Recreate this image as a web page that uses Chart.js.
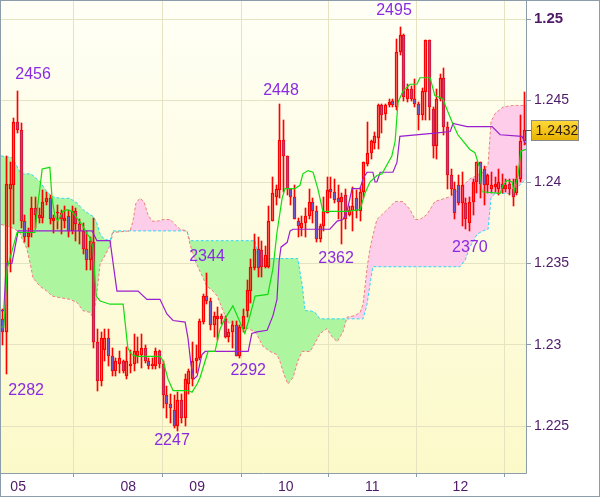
<!DOCTYPE html>
<html>
<head>
<meta charset="utf-8">
<script src="https://cdn.jsdelivr.net/npm/chart.js@4.4.1/dist/chart.umd.min.js"></script>
<style>
  html, body { margin: 0; padding: 0; background: #fff; }
  #wrap { width: 600px; height: 497px; }
</style>
</head>
<body>
<div id="wrap"><canvas id="ichimoku" width="600" height="497"></canvas></div>
<script>
// hourly candles, one per index
const opens = [
  1.2316,1.2308,1.2396,1.2398,1.2437,1.2432,1.2376,1.2366,1.2369,1.2384,
  1.2380,1.2378,1.2388,1.2390,1.2376,1.2381,1.2381,1.2376,1.2379,1.2370,
  1.2382,1.2374,1.2370,1.2359,1.2352,1.2363,1.2302,1.2278,1.2297,1.2304,
  1.2293,1.2284,1.2288,1.2290,1.2281,1.2287,1.2288,1.2293,1.2294,1.2298,
  1.2290,1.2287,1.2287,1.2296,1.2288,1.2269,1.2264,1.2260,1.2250,1.2266,
  1.2255,1.2276,1.2279,1.2290,1.2292,1.2314,1.2330,1.2327,1.2312,1.2316,
  1.2318,1.2316,1.2305,1.2308,1.2312,1.2293,1.2310,1.2321,1.2333,1.2347,
  1.2359,1.2358,1.2348,1.2348,1.2376,1.2391,1.2395,1.2426,1.2416,1.2396,
  1.2391,1.2376,1.2372,1.2375,1.2379,1.2388,1.2382,1.2365,1.2373,1.2381,
  1.2396,1.2394,1.2390,1.2388,1.2392,1.2380,1.2382,1.2390,1.2382,1.2394,
  1.2411,1.2418,1.2424,1.2427,1.2447,1.2442,1.2447,1.2450,1.2446,1.2480,
  1.2490,1.2451,1.2457,1.2451,1.2448,1.2441,1.2455,1.2487,1.2445,1.2422,
  1.2451,1.2464,1.2434,1.2404,1.2396,1.2398,1.2387,1.2387,1.2375,1.2388,
  1.2400,1.2412,1.2408,1.2398,1.2396,1.2397,1.2396,1.2399,1.2396,1.2399,
  1.2396,1.2393,1.2402,1.2425
];
const highs = [
  1.2322,1.2416,1.2412,1.2439,1.2456,1.2436,1.2380,1.2372,1.2391,1.2391,
  1.2384,1.2395,1.2394,1.2392,1.2380,1.2386,1.2383,1.2385,1.2383,1.2385,
  1.2384,1.2377,1.2375,1.2370,1.2366,1.2378,1.2310,1.2308,1.2310,1.2310,
  1.2298,1.2292,1.2296,1.2291,1.2299,1.2297,1.2307,1.2305,1.2307,1.2300,
  1.2292,1.2292,1.2298,1.2297,1.2290,1.2275,1.2270,1.2269,1.2271,1.2270,
  1.2282,1.2285,1.2302,1.2300,1.2316,1.2331,1.2344,1.2329,1.2320,1.2323,
  1.2319,1.2318,1.2310,1.2315,1.2315,1.2312,1.2322,1.2340,1.2353,1.2368,
  1.2366,1.2364,1.2361,1.2385,1.2403,1.2398,1.2448,1.2438,1.2416,1.2396,
  1.2398,1.2378,1.2379,1.2384,1.2396,1.2390,1.2385,1.2374,1.2391,1.2403,
  1.2403,1.2402,1.2398,1.2393,1.2396,1.2385,1.2397,1.2395,1.2397,1.2412,
  1.2437,1.2426,1.2431,1.2448,1.2448,1.2448,1.2451,1.2451,1.2488,1.2495,
  1.2491,1.2460,1.2459,1.2463,1.2449,1.2458,1.2487,1.2487,1.2446,1.2457,
  1.2466,1.2470,1.2437,1.2408,1.2400,1.2404,1.2406,1.2390,1.2391,1.2402,
  1.2412,1.2412,1.2410,1.2405,1.2406,1.2403,1.2408,1.2405,1.2402,1.2402,
  1.2402,1.2410,1.2441,1.2455
];
const lows = [
  1.2300,1.2282,1.2345,1.2374,1.2430,1.2372,1.2363,1.2360,1.2366,1.2372,
  1.2375,1.2375,1.2386,1.2374,1.2369,1.2371,1.2368,1.2372,1.2366,1.2368,
  1.2364,1.2362,1.2356,1.2346,1.2346,1.2298,1.2272,1.2275,1.2290,1.2287,
  1.2281,1.2281,1.2283,1.2283,1.2279,1.2283,1.2284,1.2289,1.2286,1.2289,
  1.2285,1.2285,1.2285,1.2286,1.2261,1.2255,1.2252,1.2249,1.2247,1.2252,
  1.2250,1.2270,1.2275,1.2283,1.2291,1.2313,1.2325,1.2309,1.2305,1.2303,
  1.2313,1.2304,1.2302,1.2298,1.2293,1.2292,1.2308,1.2317,1.2326,1.2346,
  1.2342,1.2342,1.2347,1.2347,1.2376,1.2386,1.2390,1.2394,1.2392,1.2386,
  1.2377,1.2366,1.2367,1.2366,1.2377,1.2375,1.2363,1.2363,1.2370,1.2381,
  1.2390,1.2387,1.2377,1.2362,1.2371,1.2379,1.2370,1.2378,1.2376,1.2390,
  1.2410,1.2414,1.2420,1.2420,1.2430,1.2438,1.2446,1.2446,1.2444,1.2478,
  1.2450,1.2449,1.2450,1.2446,1.2432,1.2438,1.2438,1.2438,1.2415,1.2414,
  1.2450,1.2429,1.2396,1.2392,1.2377,1.2386,1.2373,1.2371,1.2370,1.2380,
  1.2393,1.2390,1.2386,1.2393,1.2393,1.2394,1.2392,1.2393,1.2394,1.2392,
  1.2385,1.2392,1.2400,1.2423
];
const closes = [
  1.2308,1.2399,1.2399,1.2437,1.2432,1.2376,1.2366,1.2369,1.2384,1.2380,
  1.2378,1.2388,1.2390,1.2377,1.2378,1.2381,1.2377,1.2378,1.2370,1.2382,
  1.2374,1.2370,1.2359,1.2352,1.2364,1.2302,1.2278,1.2304,1.2304,1.2293,
  1.2284,1.2290,1.2292,1.2284,1.2290,1.2288,1.2296,1.2296,1.2298,1.2290,
  1.2287,1.2288,1.2296,1.2288,1.2269,1.2264,1.2261,1.2250,1.2266,1.2255,
  1.2279,1.2284,1.2290,1.2292,1.2315,1.2330,1.2327,1.2312,1.2318,1.2318,
  1.2316,1.2305,1.2308,1.2312,1.2293,1.2311,1.2318,1.2334,1.2348,1.2359,
  1.2347,1.2348,1.2355,1.2376,1.2393,1.2396,1.2426,1.2416,1.2396,1.2391,
  1.2377,1.2373,1.2375,1.2379,1.2388,1.2382,1.2365,1.2373,1.2382,1.2395,
  1.2394,1.2389,1.2388,1.2391,1.2377,1.2383,1.2385,1.2382,1.2394,1.2412,
  1.2418,1.2425,1.2428,1.2447,1.2441,1.2447,1.2449,1.2447,1.2480,1.2490,
  1.2452,1.2457,1.2451,1.2448,1.2441,1.2456,1.2487,1.2446,1.2422,1.2451,
  1.2464,1.2434,1.2404,1.2396,1.2381,1.2387,1.2398,1.2377,1.2388,1.2400,
  1.2412,1.2399,1.2398,1.2404,1.2398,1.2399,1.2400,1.2396,1.2398,1.2396,
  1.2391,1.2402,1.2425,1.2432
];

// tenkan / kijun corners as [index, price]
const tenkan = [
  [-0.5,1.2311],[0.3,1.2311],[1.2,1.2347],[3.9,1.2369],[8.8,1.2369],[9.7,1.2388],[10.8,1.2408],
  [12.9,1.2409],[13.5,1.2390],[14.3,1.2379],[15.1,1.2376],[16.5,1.2382],[17.6,1.2383],[19.0,1.2382],
  [20.6,1.2377],[21.7,1.2374],[23.1,1.2368],[23.9,1.2366],[24.7,1.2360],[25.6,1.2330],[26.7,1.2327],
  [29.4,1.2325],[33.0,1.2325],[34.3,1.2298],[35.4,1.2294],[36.8,1.2293],[43.1,1.2293],[44.0,1.2290],
  [45.3,1.2279],[46.7,1.2272],[50.8,1.2272],[51.9,1.2271],[53.3,1.2276],[54.1,1.2280],[56.3,1.2296],
  [58.2,1.2296],[59.6,1.2310],[60.9,1.2316],[63.1,1.2324],[66.4,1.2307],[67.8,1.2318],[69.2,1.2330],
  [72.7,1.2331],[74.1,1.2347],[75.2,1.2369],[76.6,1.2390],[77.4,1.2396],[80.1,1.2396],[81.5,1.2398],
  [82.3,1.2405],[83.7,1.2407],[85.1,1.2406],[86.4,1.2396],[87.8,1.2382],[94.4,1.2382],[98.0,1.2383],
  [99.3,1.2393],[100.7,1.2400],[102.6,1.2404],[104.0,1.2405],[106.7,1.2416],[107.6,1.2425],[108.4,1.2449],
  [109.8,1.2456],[111.7,1.2460],[113.6,1.2460],[114.4,1.2464],[117.2,1.2464],[118.5,1.2453],[120.7,1.2451],
  [122.1,1.2443],[123.2,1.2437],[124.8,1.2429],[125.9,1.2426],[128.1,1.2420],[129.5,1.2418],[130.9,1.2408],
  [131.4,1.2394],[136.4,1.2393],[137.2,1.2398],[138.3,1.2401],[139.7,1.2400],[140.2,1.2394],[141.3,1.2404],
  [142.1,1.2419],[143.5,1.2420]
];
const kijun = [
  [-0.5,1.2321],[0.3,1.2321],[0.9,1.2350],[2.5,1.2350],[4.2,1.2370],[24.5,1.2370],[25.8,1.2364],
  [29.4,1.2364],[31.3,1.2333],[37.1,1.2333],[39.5,1.2328],[43.1,1.2328],[45.0,1.2319],[46.7,1.2315],
  [50.0,1.2314],[50.8,1.2304],[51.6,1.2288],[52.4,1.2279],[53.3,1.2281],[54.6,1.2294],[55.5,1.2296],
  [67.3,1.2296],[68.3,1.2307],[69.7,1.2308],[72.5,1.2309],[74.1,1.2318],[75.2,1.2328],[75.8,1.2352],
  [76.3,1.2360],[78.0,1.2363],[78.8,1.2370],[79.6,1.2371],[89.7,1.2371],[91.7,1.2376],[93.3,1.2377],
  [94.4,1.2382],[95.8,1.2396],[98.0,1.2396],[98.8,1.2402],[99.9,1.2406],[101.5,1.2406],[102.1,1.2400],
  [102.6,1.2400],[103.5,1.2406],[107.0,1.2406],[108.1,1.2412],[108.9,1.2428],[118.5,1.2430],[122.7,1.2431],
  [123.5,1.2436],[127.3,1.2434],[134.2,1.2434],[136.4,1.2429],[142.4,1.2428],[143.5,1.2423]
];

// cloud edges sampled at the same positions
const cloudX = [
  -0.5,2.5,3.3,4.7,5.3,6.6,7.5,8.3,10.2,12.1,13.5,15.7,18.4,20.4,22.0,23.9,24.7,25.6,26.7,27.8,
  29.4,30.2,34.9,35.7,36.5,37.6,38.7,39.8,40.9,42.6,43.9,45.9,47.2,48.6,50.5,51.3,52.7,54.1,56.0,57.7,
  58.8,60.4,61.8,63.1,67.3,69.2,70.0,71.4,73.3,75.2,76.0,77.1,78.2,79.6,80.9,82.1,82.9,84.3,85.6,87.0,
  88.9,90.3,91.7,93.3,94.4,96.6,98.0,98.8,99.9,100.7,101.5,102.6,105.4,107.6,109.8,111.7,113.1,114.4,116.3,118.5,
  122.7,125.4,126.8,128.1,130.1,131.7,133.1,133.9,135.0,137.2,139.9,141.3,143.5
];
const senkouA = [
  1.2416,1.2415,1.2412,1.2406,1.2405,1.2405,1.2405,1.2404,1.2400,1.2394,1.2391,1.2390,1.2390,1.2387,1.2383,1.2380,1.2379,1.2376,1.2368,1.2365,
  1.2364,1.2370,1.2370,1.2370,1.2370,1.2370,1.2370,1.2370,1.2370,1.2370,1.2370,1.2370,1.2370,1.2370,1.2370,1.2364,1.2364,1.2364,1.2364,1.2364,
  1.2364,1.2364,1.2364,1.2364,1.2364,1.2364,1.2353,1.2353,1.2353,1.2353,1.2353,1.2353,1.2353,1.2353,1.2353,1.2337,1.2321,1.2321,1.2320,1.2316,
  1.2316,1.2316,1.2316,1.2316,1.2316,1.2316,1.2316,1.2316,1.2325,1.2337,1.2348,1.2348,1.2348,1.2348,1.2348,1.2348,1.2348,1.2348,1.2348,1.2348,
  1.2348,1.2348,1.2352,1.2360,1.2368,1.2370,1.2371,1.2390,1.2393,1.2393,1.2393,1.2397,1.2402
];
const senkouB = [
  1.2374,1.2372,1.2371,1.2369,1.2365,1.2359,1.2350,1.2341,1.2336,1.2333,1.2330,1.2329,1.2328,1.2326,1.2321,1.2320,1.2317,1.2328,1.2350,1.2354,
  1.2361,1.2369,1.2370,1.2376,1.2387,1.2390,1.2388,1.2380,1.2376,1.2376,1.2377,1.2377,1.2374,1.2371,1.2370,1.2362,1.2352,1.2345,1.2336,1.2333,
  1.2330,1.2321,1.2314,1.2312,1.2310,1.2308,1.2305,1.2299,1.2296,1.2294,1.2290,1.2282,1.2276,1.2280,1.2290,1.2296,1.2296,1.2296,1.2301,1.2307,
  1.2310,1.2305,1.2302,1.2308,1.2317,1.2318,1.2320,1.2325,1.2347,1.2359,1.2367,1.2377,1.2383,1.2388,1.2388,1.2383,1.2377,1.2377,1.2380,1.2388,
  1.2391,1.2396,1.2399,1.2402,1.2404,1.2406,1.2411,1.2437,1.2442,1.2446,1.2447,1.2447,1.2447
];

// swing labels: text, index position, price position
const markText = ['2456', '2282', '2448', '2495', '2344', '2247', '2292', '2362', '2370'];
const markX = [8.3, 6.4, 76.3, 107.3, 56.0, 46.4, 67.3, 91.4, 128.1];
const markY = [1.2466, 1.2272, 1.2456, 1.2505, 1.2354, 1.2241, 1.2284, 1.2353, 1.2360];

const dayTicks = [4.2, 34.4, 53.3, 77.6, 101.3, 125.5];
const dayLabels = ['05', '08', '09', '10', '11', '12'];
const priceTicks = [1.225, 1.23, 1.235, 1.24, 1.245, 1.25];

const FONT = '"Liberation Sans", Arial, sans-serif';
const AXIS = '#8d9cab';
const GRID = '#e6e3c3';
const TEXT = '#4e1a68';
const RED = '#ff0000';

const bodies = opens.map((o, i) => ({ x: i, y: [o, closes[i]] }));
const upperWicks = opens.map((o, i) => ({ x: i, y: [Math.max(o, closes[i]), highs[i]] }));
const lowerWicks = opens.map((o, i) => ({ x: i, y: [lows[i], Math.min(o, closes[i])] }));
const bodyFill = opens.map((o, i) => closes[i] < o ? '#6a5acd' : 'rgba(0,0,0,0)');

const bgPlugin = {
  id: 'bg',
  beforeDraw(chart) {
    const { ctx, chartArea: a } = chart;
    ctx.save();
    ctx.fillStyle = '#ffffff';
    ctx.fillRect(0, 0, chart.width, chart.height);
    const g = ctx.createLinearGradient(0, a.top, 0, a.bottom);
    g.addColorStop(0, '#fffff6');
    g.addColorStop(1, '#fcf9c9');
    ctx.fillStyle = g;
    ctx.fillRect(a.left, a.top, a.right - a.left, a.bottom - a.top);
    ctx.restore();
  }
};

// keep candle bars on whole pixels so 1px wicks stay sharp
const snapPlugin = {
  id: 'snap',
  afterDatasetsUpdate(chart) {
    chart.data.datasets.forEach((ds, di) => {
      const meta = chart.getDatasetMeta(di);
      if (meta.type !== 'bar') return;
      meta.data.forEach(el => {
        el.x = Math.floor(el.x) + 0.5;
        el.y = Math.round(el.y);
        el.base = Math.round(el.base);
      });
    });
  }
};

const overlayPlugin = {
  id: 'overlay',
  afterDatasetsDraw(chart) {
    const { ctx } = chart;
    const xs = chart.scales.x, ys = chart.scales.y;
    ctx.save();
    ctx.font = '16px ' + FONT;
    ctx.fillStyle = '#8a2be2';
    ctx.textAlign = 'center';
    ctx.textBaseline = 'middle';
    markText.forEach((t, i) => {
      ctx.fillText(t, xs.getPixelForValue(markX[i]), ys.getPixelForValue(markY[i]));
    });
    ctx.restore();
  },
  afterDraw(chart) {
    const { ctx, chartArea: a } = chart;
    const ys = chart.scales.y;
    ctx.save();
    ctx.strokeStyle = AXIS;
    ctx.lineWidth = 1;
    ctx.strokeRect(0.5, 0.5, chart.width - 1, chart.height - 1);
    ctx.beginPath();
    ctx.moveTo(a.right + 0.5, 0);
    ctx.lineTo(a.right + 0.5, a.bottom + 0.5);
    ctx.lineTo(0, a.bottom + 0.5);
    ctx.stroke();

    // last price tag
    const last = closes[closes.length - 1];
    const y = Math.round(ys.getPixelForValue(last)) + 0.5;
    ctx.strokeStyle = '#555555';
    ctx.beginPath();
    ctx.moveTo(a.right, y);
    ctx.lineTo(a.right + 6, y);
    ctx.stroke();
    const bx = a.right + 5.5, bw = 47, bh = 20, by = y - 10;
    const g = ctx.createLinearGradient(0, by, 0, by + bh);
    g.addColorStop(0, '#ffd93a');
    g.addColorStop(1, '#e8b200');
    ctx.fillStyle = g;
    ctx.fillRect(bx, by, bw, bh);
    ctx.strokeStyle = '#8a8a8a';
    ctx.strokeRect(bx, by, bw, bh);
    ctx.fillStyle = '#2a1a10';
    ctx.font = '14px ' + FONT;
    ctx.textAlign = 'left';
    ctx.textBaseline = 'middle';
    ctx.fillText(last.toFixed(4), bx + 4, y + 1);
    ctx.restore();
  }
};

new Chart('ichimoku', {
  type: 'line',
  data: {
    datasets: [
      {
        label: 'Senkou A',
        data: cloudX.map((x, i) => ({ x, y: senkouA[i] })),
        borderColor: '#2ed8f4',
        borderWidth: 1,
        borderDash: [3, 2],
        pointRadius: 0,
        tension: 0,
        fill: { target: '+1', above: '#aef5a0', below: '#fdcdea' },
        order: 6
      },
      {
        label: 'Senkou B',
        data: cloudX.map((x, i) => ({ x, y: senkouB[i] })),
        borderColor: '#f08080',
        borderWidth: 1,
        borderDash: [3, 2],
        pointRadius: 0,
        tension: 0,
        fill: false,
        order: 5
      },
      {
        type: 'bar',
        label: 'upper wick',
        data: upperWicks,
        backgroundColor: RED,
        borderWidth: 0,
        barThickness: 1,
        grouped: false,
        order: 4
      },
      {
        type: 'bar',
        label: 'lower wick',
        data: lowerWicks,
        backgroundColor: RED,
        borderWidth: 0,
        barThickness: 1,
        grouped: false,
        order: 4
      },
      {
        type: 'bar',
        label: 'body',
        data: bodies,
        backgroundColor: bodyFill,
        borderColor: RED,
        borderWidth: 1,
        borderSkipped: false,
        barThickness: 3,
        minBarLength: 1,
        grouped: false,
        order: 3
      },
      {
        label: 'Kijun',
        data: kijun.map(p => ({ x: p[0], y: p[1] })),
        borderColor: '#9a1fd0',
        borderWidth: 1.2,
        pointRadius: 0,
        tension: 0,
        fill: false,
        order: 2
      },
      {
        label: 'Tenkan',
        data: tenkan.map(p => ({ x: p[0], y: p[1] })),
        borderColor: '#10dd10',
        borderWidth: 1.2,
        pointRadius: 0,
        tension: 0,
        fill: false,
        order: 1
      }
    ]
  },
  options: {
    responsive: false,
    animation: false,
    events: [],
    layout: { padding: { left: 1, top: 1, right: 1, bottom: 1 } },
    plugins: {
      legend: { display: false },
      tooltip: { enabled: false }
    },
    scales: {
      x: {
        type: 'linear',
        min: -0.5,
        max: 143.5,
        offset: false,
        afterBuildTicks: ax => { ax.ticks = dayTicks.map(v => ({ value: v })); },
        afterFit: ax => { ax.height = 23; ax.paddingLeft = 0; ax.paddingRight = 0; },
        grid: { color: GRID, tickColor: AXIS, tickLength: 4 },
        border: { display: false },
        ticks: {
          autoSkip: false,
          maxRotation: 0,
          padding: 2,
          color: TEXT,
          font: { size: 14, family: FONT },
          callback: (v, i) => dayLabels[i]
        }
      },
      y: {
        type: 'linear',
        position: 'right',
        min: 1.22214,
        max: 1.25111,
        afterBuildTicks: ax => { ax.ticks = priceTicks.map(v => ({ value: v })); },
        afterFit: ax => { ax.width = 73; ax.paddingTop = 0; ax.paddingBottom = 0; },
        grid: { color: GRID, tickColor: AXIS, tickLength: 5 },
        border: { display: false },
        ticks: {
          padding: 3,
          color: TEXT,
          font: ctx => (ctx.tick && ctx.tick.value === 1.25
            ? { size: 15, family: FONT, weight: 'bold' }
            : { size: 14, family: FONT }),
          callback: v => String(v)
        }
      }
    }
  },
  plugins: [bgPlugin, snapPlugin, overlayPlugin]
});
</script>
</body>
</html>
